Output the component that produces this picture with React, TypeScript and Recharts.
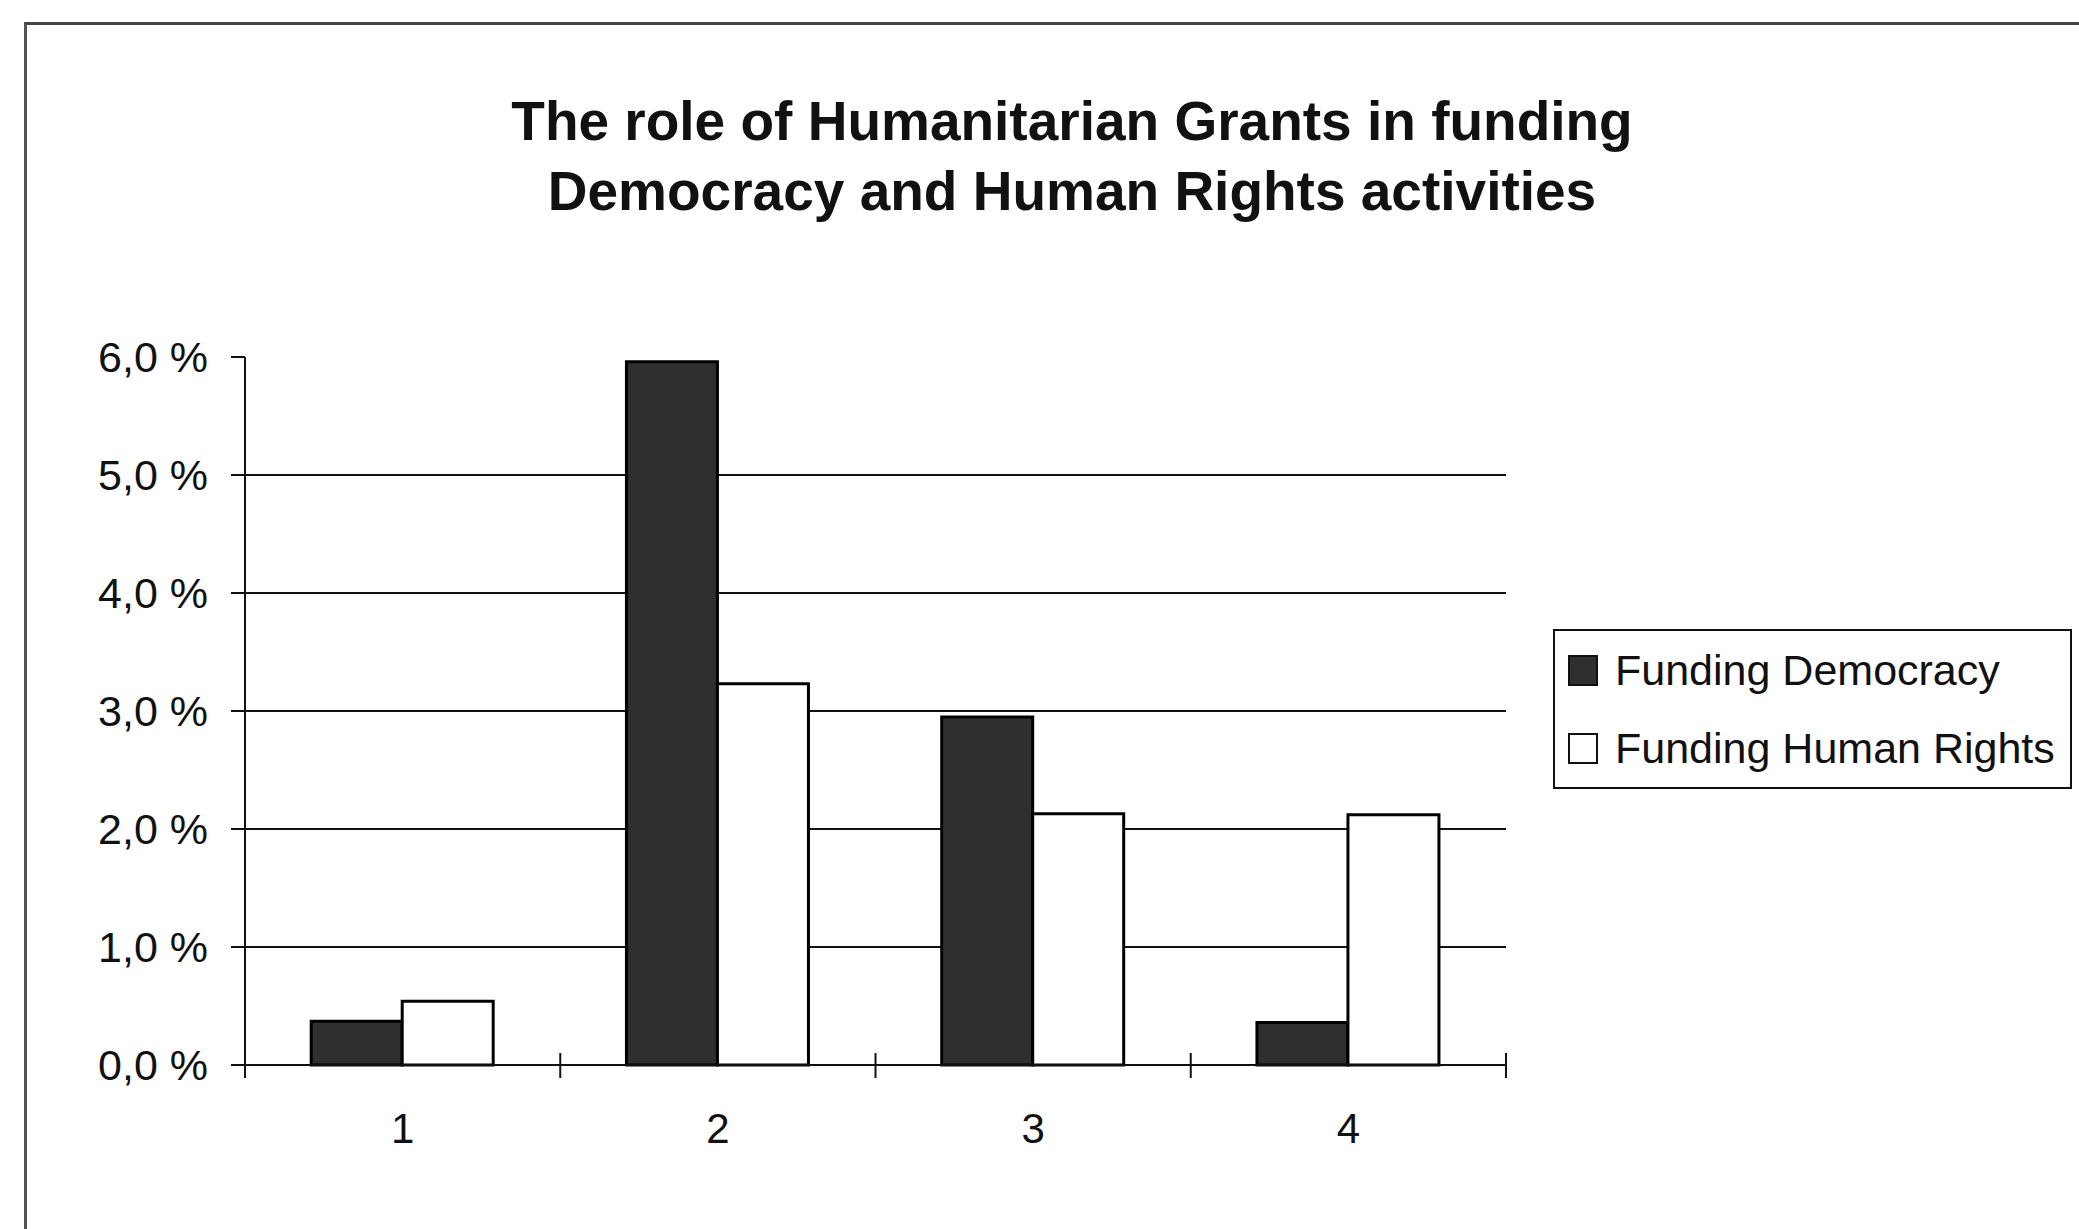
import React from 'react';
import { BarChart, Bar, XAxis, YAxis, CartesianGrid, Legend } from 'recharts';

const categories = ['1', '2', '3', '4'];
const fundingDemocracy = [0.37, 5.96, 2.95, 0.36];
const fundingHumanRights = [0.54, 3.23, 2.13, 2.12];
const yTicks = [0, 1, 2, 3, 4, 5, 6];
const gridValues = [1, 2, 3, 4, 5];
const titleLines = [
  'The role of Humanitarian Grants in funding',
  'Democracy and Human Rights activities',
];

const FONT = '"Liberation Sans", Arial, Helvetica, sans-serif';
const INK = '#111';

const data = categories.map((name, i) => ({
  name,
  democracy: fundingDemocracy[i],
  humanRights: fundingHumanRights[i],
}));

// category label, plus the Excel-style tick marks on the band edges
const CategoryTick = (props: any) => {
  const { x, y, payload, index, visibleTicksCount } = props;
  const half = payload && typeof payload.offset === 'number' ? payload.offset : 0;
  const axisY = y - 48;
  const isLast = index === visibleTicksCount - 1;
  return (
    <g>
      {half > 0 && (
        <line x1={x - half} x2={x - half} y1={axisY - 12} y2={axisY + 13} stroke={INK} strokeWidth={2} />
      )}
      {half > 0 && isLast && (
        <line x1={x + half} x2={x + half} y1={axisY - 12} y2={axisY + 13} stroke={INK} strokeWidth={2} />
      )}
      <text x={x} y={y} dy="0.71em" textAnchor="middle" fill={INK} fontSize={42} fontFamily={FONT}>
        {payload.value}
      </text>
    </g>
  );
};

const LegendBox = (props: any) => {
  const { payload } = props;
  return (
    <div
      style={{
        border: `2px solid ${INK}`,
        background: '#fff',
        width: 515,
        height: 156,
        fontFamily: FONT,
        fontSize: 43,
        color: INK,
      }}
    >
      {(payload || []).map((entry: any) => (
        <div
          key={entry.value}
          style={{ display: 'flex', alignItems: 'center', height: 78, paddingLeft: 13 }}
        >
          <span
            style={{
              display: 'inline-block',
              width: 26,
              height: 27,
              background: entry.color,
              border: `2px solid ${INK}`,
              marginRight: 17,
            }}
          />
          <span>{entry.value}</span>
        </div>
      ))}
    </div>
  );
};

export default function App() {
  return (
    <div
      style={{
        position: 'absolute',
        left: 0,
        top: 0,
        width: 2079,
        height: 1229,
        background: '#fff',
        fontFamily: FONT,
        overflow: 'hidden',
      }}
    >
      <div
        style={{
          position: 'absolute',
          left: 24,
          top: 22,
          width: 2079 - 24,
          height: 1229 - 22,
          borderTop: '3px solid #444',
          borderLeft: '3px solid #555',
        }}
      />
      <div
        style={{
          position: 'absolute',
          left: 1072 - 800,
          top: 86,
          width: 1600,
          textAlign: 'center',
          fontWeight: 'bold',
          fontSize: 55,
          lineHeight: '70px',
          color: INK,
        }}
      >
        {titleLines.map((t) => (
          <div key={t}>{t}</div>
        ))}
      </div>
      <BarChart
        width={2079}
        height={1229}
        data={data}
        margin={{ top: 357, right: 573, bottom: 64, left: 45 }}
        barCategoryGap="21%"
        barGap={0}
      >
        <CartesianGrid
          vertical={false}
          horizontalValues={gridValues}
          stroke={INK}
          strokeWidth={2}
        />
        <XAxis
          dataKey="name"
          height={100}
          interval={0}
          axisLine={{ stroke: INK, strokeWidth: 2 }}
          tickLine={false}
          tickSize={0}
          tickMargin={48}
          tick={<CategoryTick />}
        />
        <YAxis
          width={200}
          domain={[0, 6]}
          ticks={yTicks}
          interval={0}
          axisLine={{ stroke: INK, strokeWidth: 2 }}
          tickLine={{ stroke: INK, strokeWidth: 2 }}
          tickSize={14}
          tickMargin={23}
          tick={{ fill: INK, fontSize: 43, fontFamily: FONT }}
          tickFormatter={(v: number) => `${v.toFixed(1).replace('.', ',')} %`}
        />
        <Legend
          layout="vertical"
          align="center"
          verticalAlign="middle"
          content={<LegendBox />}
          wrapperStyle={{ position: 'absolute', left: 1553, top: 629, width: 519, height: 160 }}
        />
        <Bar
          dataKey="democracy"
          name="Funding Democracy"
          fill="#2f2f2f"
          stroke="#000"
          strokeWidth={3}
          isAnimationActive={false}
        />
        <Bar
          dataKey="humanRights"
          name="Funding Human Rights"
          fill="#fff"
          stroke="#000"
          strokeWidth={3}
          isAnimationActive={false}
        />
      </BarChart>
    </div>
  );
}
